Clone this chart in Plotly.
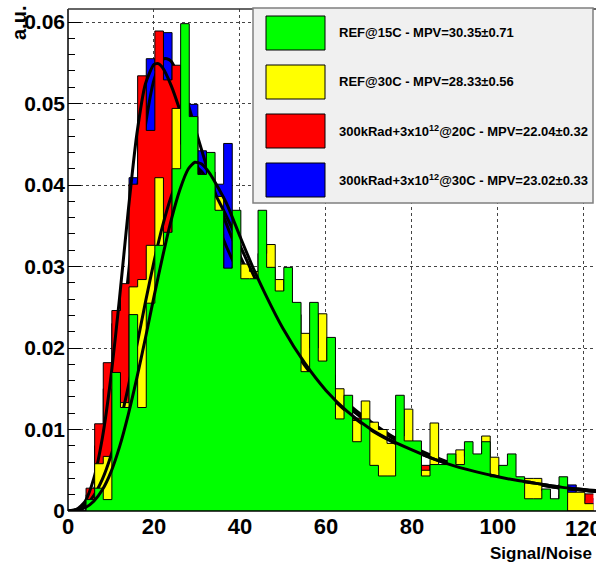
import plotly.graph_objects as go

# ---------------- histogram data (normalised, bins of width 2) ----------------
BIN_START = 0.2
BIN_WIDTH = 2.0

ref15 = [0, 0, 0.0014, 0.0028, 0.0014, 0.0170, 0.0127, 0.0241, 0.0127, 0.0255,
         0.0326, 0.0342, 0.0420, 0.0598, 0.0484, 0.0413, 0.0440, 0.0369, 0.0298, 0.0369,
         0.0285, 0.0285, 0.0369, 0.0299, 0.0270, 0.0299, 0.0256, 0.0171, 0.0256, 0.0184,
         0.0213, 0.0113, 0.0142, 0.0085, 0.0113, 0.0056, 0.0043, 0.0043, 0.0142, 0.0086,
         0.0086, 0.0043, 0.0057, 0.0057, 0.0070, 0.0057, 0.0085, 0.0070, 0.0085, 0.0042,
         0.0056, 0.0070, 0.0042, 0.0015, 0.0015, 0.0027, 0.0015, 0.0042, 0, 0, 0]

ref30 = [0, 0, 0.0008, 0.0058, 0.0067, 0.0150, 0.0133, 0.0275, 0.0284, 0.0326,
         0.0409, 0.0333, 0.0494, 0.0450, 0.0420, 0.0400, 0.0416, 0.0386, 0.0283, 0.0333,
         0.0303, 0.0294, 0.0316, 0.0327, 0.0284, 0.0258, 0.0241, 0.0218, 0.0200, 0.0242,
         0.0167, 0.0150, 0.0125, 0.0111, 0.0135, 0.0109, 0.0100, 0.0083, 0.0092, 0.0125,
         0.0075, 0.0050, 0.0108, 0.0050, 0.0058, 0.0075, 0.0067, 0.0058, 0.0092, 0.0066,
         0.0050, 0.0042, 0.0033, 0.0040, 0.0040, 0.0025, 0.0008, 0.0033, 0.0023, 0.0023, 0.0009]

irr20 = [0, 0, 0.0028, 0.0107, 0.0182, 0.0246, 0.0279, 0.0401, 0.0534, 0.0467,
         0.0589, 0.0529, 0.0547, 0.0480, 0.0460, 0.0400, 0.0380, 0.0340, 0.0290, 0.0300,
         0.0270, 0.0260, 0.0280, 0.0230, 0.0220, 0.0200, 0.0190, 0.0160, 0.0170, 0.0150,
         0.0140, 0.0120, 0.0110, 0.0114, 0.0090, 0.0080, 0.0070, 0.0060, 0.0070, 0.0060,
         0.0055, 0.0056, 0.0050, 0.0045, 0.0045, 0.0040, 0.0040, 0.0035, 0.0035, 0.0030,
         0.0030, 0.0030, 0.0025, 0.0025, 0.0020, 0.0020, 0.0013, 0.0020, 0.0013, 0.0013, 0.0021]

irr30 = [0, 0, 0.0020, 0.0080, 0.0150, 0.0230, 0.0270, 0.0409, 0.0480, 0.0555,
         0.0540, 0.0587, 0.0510, 0.0500, 0.0499, 0.0442, 0.0400, 0.0401, 0.0451, 0.0320,
         0.0280, 0.0270, 0.0290, 0.0250, 0.0230, 0.0220, 0.0200, 0.0170, 0.0170, 0.0160,
         0.0150, 0.0120, 0.0110, 0.0100, 0.0095, 0.0085, 0.0075, 0.0070, 0.0070, 0.0065,
         0.0060, 0.0050, 0.0050, 0.0048, 0.0045, 0.0042, 0.0040, 0.0038, 0.0036, 0.0034,
         0.0032, 0.0030, 0.0028, 0.0026, 0.0024, 0.0022, 0.0012, 0.0030, 0.0032, 0.0015, 0.0015]

# ---------------- Landau (x) Gauss fit curves, sampled ----------------
fit15_x = [0, 2, 4, 6, 8, 10, 12, 14, 16, 18, 20, 22, 24, 26, 28, 29.5, 31, 33, 35, 37,
           40, 43, 46, 50, 55, 60, 65, 70, 75, 80, 85, 90, 95, 100, 105, 110, 115, 122.8]
fit15_y = [0, 0.0001, 0.0004, 0.0012, 0.0026, 0.0048, 0.0079, 0.0118, 0.0163, 0.0212,
           0.0263, 0.0312, 0.0357, 0.0394, 0.0420, 0.0428, 0.0426, 0.0414, 0.0396, 0.0376,
           0.0337, 0.0299, 0.0265, 0.0224, 0.0182, 0.0148, 0.0122, 0.0102, 0.0087, 0.0075,
           0.0064, 0.0055, 0.0048, 0.0042, 0.0037, 0.0033, 0.0029, 0.0025]

fit30_x = [0, 2, 4, 6, 8, 10, 12, 14, 16, 18, 20, 22, 24, 26, 27.5, 29, 31, 33, 35, 37,
           40, 43, 46, 50, 55, 60, 65, 70, 75, 80, 85, 90, 95, 100, 105, 110, 115, 122.8]
fit30_y = [0, 0.0002, 0.0007, 0.0019, 0.0039, 0.0068, 0.0106, 0.0152, 0.0203, 0.0256,
           0.0306, 0.0350, 0.0386, 0.0412, 0.0424, 0.0425, 0.0417, 0.0401, 0.0381, 0.0360,
           0.0326, 0.0291, 0.0258, 0.0219, 0.0179, 0.0146, 0.0121, 0.0101, 0.0086, 0.0074,
           0.0064, 0.0055, 0.0048, 0.0042, 0.0037, 0.0033, 0.0029, 0.0025]

fitI20_x = [0, 2, 4, 6, 8, 10, 12, 14, 16, 18, 20, 21, 22, 24, 26, 28, 30, 32, 34, 36,
            38, 41, 44, 47, 50, 55, 60, 65, 70, 75, 80, 85, 90, 95, 100, 105, 110, 115, 122.8]
fitI20_y = [0, 0.0002, 0.0012, 0.0040, 0.0090, 0.0165, 0.0262, 0.0368, 0.0462, 0.0524,
            0.0548, 0.0549, 0.0544, 0.0522, 0.0492, 0.0458, 0.0424, 0.0392, 0.0362, 0.0335,
            0.0311, 0.0280, 0.0254, 0.0231, 0.0211, 0.0180, 0.0152, 0.0128, 0.0108, 0.0091,
            0.0077, 0.0066, 0.0056, 0.0048, 0.0042, 0.0037, 0.0032, 0.0028, 0.0024]

fitI30_x = [0, 2, 4, 6, 8, 10, 12, 14, 16, 18, 20, 22, 23, 24, 26, 28, 30, 32, 34, 36,
            38, 41, 44, 47, 50, 55, 60, 65, 70, 75, 80, 85, 90, 95, 100, 105, 110, 115, 122.8]
fitI30_y = [0, 0.0001, 0.0007, 0.0025, 0.0060, 0.0115, 0.0192, 0.0288, 0.0388, 0.0473,
            0.0529, 0.0554, 0.0555, 0.0552, 0.0530, 0.0498, 0.0462, 0.0427, 0.0394, 0.0364,
            0.0337, 0.0302, 0.0272, 0.0246, 0.0223, 0.0189, 0.0158, 0.0132, 0.0111, 0.0093,
            0.0079, 0.0067, 0.0057, 0.0049, 0.0042, 0.0037, 0.0032, 0.0028, 0.0024]

labels = ["REF@15C - MPV=30.35\u00b10.71",
          "REF@30C - MPV=28.33\u00b10.56",
          "300kRad+3x10<sup>12</sup>@20C - MPV=22.04\u00b10.32",
          "300kRad+3x10<sup>12</sup>@30C - MPV=23.02\u00b10.33"]
colors = ["#00ff00", "#ffff00", "#ff0000", "#0000ff"]

x_ticks = [0, 20, 40, 60, 80, 100, 120]
y_ticks = [0, 0.01, 0.02, 0.03, 0.04, 0.05, 0.06]
y_ticktext = ["0", "0.01", "0.02", "0.03", "0.04", "0.05", "0.06"]

# ---------------- layout geometry (pixels) ----------------
W, H = 596, 568
ML, MR, MT, MB = 68, 0, 9, 57
PW, PH = W - ML - MR, H - MT - MB
X_MAX = 122.8
Y_MAX = 0.0616

FONT = "Liberation Sans, Arial, Helvetica, sans-serif"


def px(x):
    return (x - ML) / PW


def py(y):
    return (H - MB - y) / PH


def step_xy(values):
    edges = [BIN_START + BIN_WIDTH * i for i in range(len(values) + 1)]
    return edges, list(values) + [values[-1]]


fig = go.Figure()

# draw order: each histogram followed by its fit, later ones on top
series = [
    (irr30, fitI30_x, fitI30_y, colors[3]),
    (irr20, fitI20_x, fitI20_y, colors[2]),
    (ref30, fit30_x, fit30_y, colors[1]),
    (ref15, fit15_x, fit15_y, colors[0]),
]
for vals, fx, fy, col in series:
    xs, ys = step_xy(vals)
    fig.add_trace(go.Scatter(
        x=xs, y=ys, mode="lines", line=dict(shape="hv", color="black", width=1),
        fill="tozeroy", fillcolor=col, hoverinfo="skip", showlegend=False))
    fig.add_trace(go.Scatter(
        x=fx, y=fy, mode="lines", line=dict(shape="spline", smoothing=0.6,
                                             color="black", width=3),
        hoverinfo="skip", showlegend=False))

fig.update_layout(
    width=W, height=H,
    margin=dict(l=ML, r=MR, t=MT, b=MB),
    paper_bgcolor="white", plot_bgcolor="white",
    showlegend=False,
    font=dict(family=FONT, color="black", size=20, weight="bold"),
)

# the last x label sits on the right edge of the page; it is written separately
x_ticktext = [str(t) for t in x_ticks[:-1]] + [""]
fig.update_xaxes(
    range=[0, X_MAX], tickvals=x_ticks, ticktext=x_ticktext,
    showgrid=True, gridcolor="#444", griddash="dot", gridwidth=1,
    zeroline=False, showline=False,
    ticks="inside", ticklen=12, tickcolor="black",
    tickfont=dict(family=FONT, size=22, weight="bold"),
    layer="below traces",
)
fig.update_yaxes(
    range=[0, Y_MAX], tickvals=y_ticks, ticktext=y_ticktext,
    showgrid=True, gridcolor="#444", griddash="dot", gridwidth=1,
    zeroline=False, showline=False,
    ticks="inside", ticklen=13, tickcolor="black",
    minor=dict(ticks="inside", ticklen=7, dtick=0.002, tickcolor="black", showgrid=False),
    tickfont=dict(family=FONT, size=21, weight="bold"),
    ticklabelstandoff=2,
    layer="below traces",
)

shapes = []
# frame
shapes.append(dict(type="line", xref="paper", yref="paper", x0=0, x1=1, y0=0, y1=0,
                   line=dict(color="black", width=1.5), layer="above"))
shapes.append(dict(type="line", xref="paper", yref="paper", x0=0, x1=0, y0=0, y1=1,
                   line=dict(color="black", width=1.5), layer="above"))
shapes.append(dict(type="line", xref="paper", yref="paper", x0=0, x1=1, y0=1, y1=1,
                   line=dict(color="#333", width=1.5), layer="above"))

# legend box
shapes.append(dict(type="rect", xref="paper", yref="paper",
                   x0=px(253), x1=px(593), y0=py(203), y1=py(8),
                   fillcolor="#f0f0f0", line=dict(color="#7f7f7f", width=1.5), layer="above"))
row_centers = [33, 82, 131, 180]
annotations = []
for lab, col, yc in zip(labels, colors, row_centers):
    shapes.append(dict(type="rect", xref="paper", yref="paper",
                       x0=px(266), x1=px(325), y0=py(yc + 17), y1=py(yc - 17),
                       fillcolor=col, line=dict(color="black", width=1), layer="above"))
    annotations.append(dict(xref="paper", yref="paper", x=px(337), y=py(yc),
                            xanchor="left", yanchor="middle", text=lab, showarrow=False,
                            font=dict(family=FONT, size=13, weight="bold", color="black")))

# last x tick label, centred on its tick
annotations.append(dict(xref="x", yref="paper", x=x_ticks[-1], y=py(528),
                        xanchor="center", yanchor="middle", text=str(x_ticks[-1]),
                        showarrow=False, font=dict(family=FONT, size=22, weight="bold")))

# axis titles
annotations.append(dict(xref="paper", yref="paper", x=px(594), y=py(553),
                        xanchor="right", yanchor="middle", text="Signal/Noise",
                        showarrow=False, font=dict(family=FONT, size=17, weight="bold")))
annotations.append(dict(xref="paper", yref="paper", x=px(19), y=py(4),
                        xanchor="center", yanchor="top", text="a.u.", textangle=-90,
                        showarrow=False, font=dict(family=FONT, size=20, weight="bold")))

fig.update_layout(shapes=shapes, annotations=annotations)

fig.write_html("out.html")
